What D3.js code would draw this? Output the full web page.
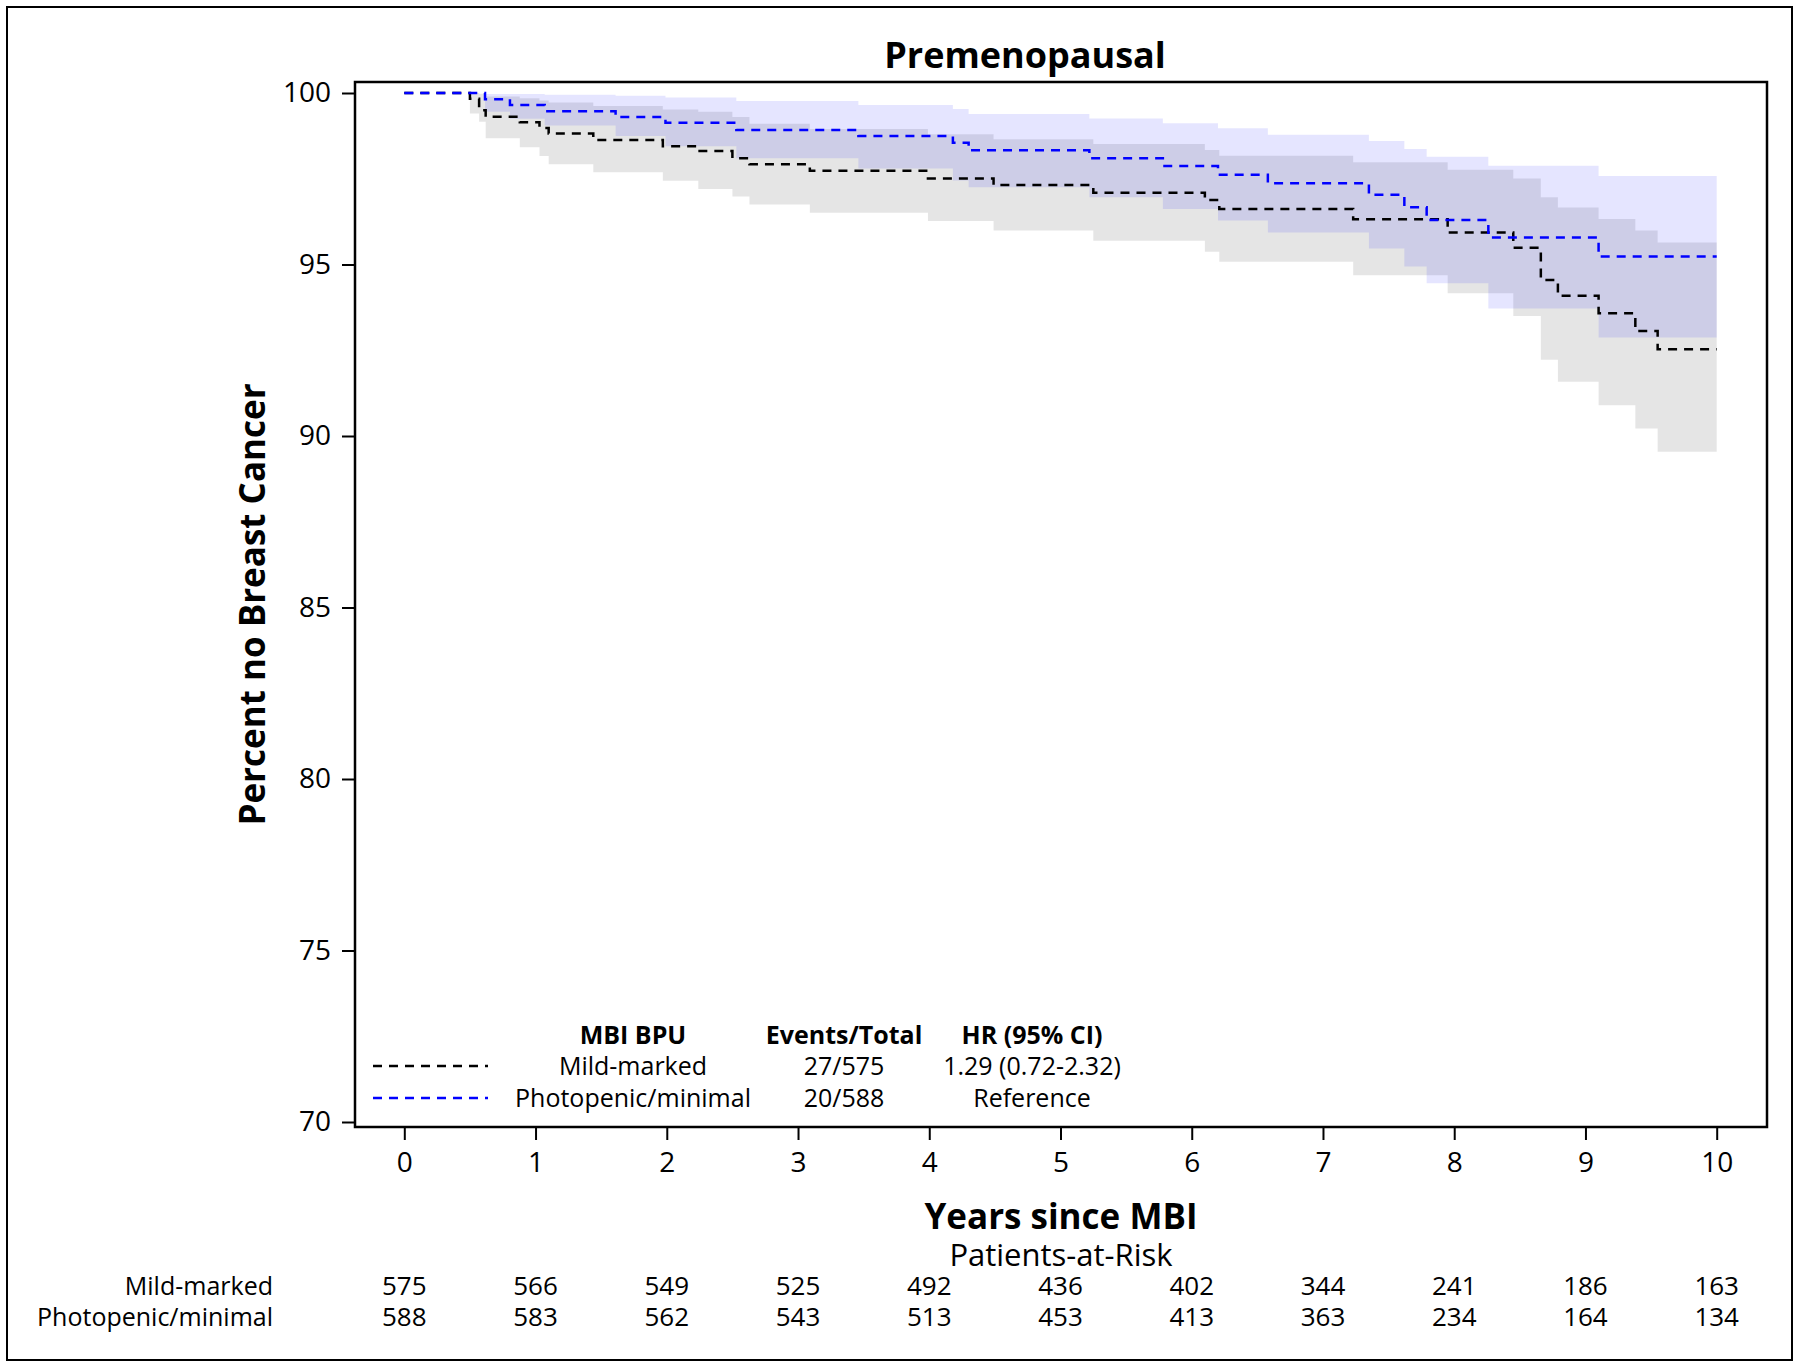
<!DOCTYPE html>
<html>
<head>
<meta charset="utf-8">
<script src="https://cdn.jsdelivr.net/npm/d3@7"></script>
<style>
html,body{margin:0;padding:0;background:#fff;}
svg{display:block;}
text{font-family:"Open Sans","Noto Sans",sans-serif;fill:#000;}
</style>
</head>
<body>
<script>
// ---------- DATA ----------
const title = "Premenopausal";
const yTicks = [70, 75, 80, 85, 90, 95, 100];
const xTicks = [0, 1, 2, 3, 4, 5, 6, 7, 8, 9, 10];

// Mild-marked (black)
const mildTime  = [0, 0.50, 0.57, 0.62, 0.88, 1.03, 1.10, 1.44, 1.97, 2.24, 2.50, 2.63, 3.09, 3.99, 4.49, 5.25, 6.10, 6.21, 7.23, 7.95, 8.45, 8.66, 8.79, 9.10, 9.38, 9.55, 10];
const mildSurv  = [100, 99.83, 99.5, 99.31, 99.15, 98.98, 98.82, 98.63, 98.45, 98.31, 98.10, 97.92, 97.73, 97.51, 97.32, 97.09, 96.88, 96.62, 96.32, 95.93, 95.49, 94.55, 94.09, 93.58, 93.06, 92.53, 92.53];
const mildUpper = [100, 100, 99.98, 99.9, 99.85, 99.78, 99.72, 99.62, 99.52, 99.45, 99.3, 99.1, 98.95, 98.8, 98.65, 98.51, 98.34, 98.17, 97.98, 97.76, 97.51, 96.96, 96.66, 96.33, 95.99, 95.64, 95.64];
const mildLower = [100, 99.4, 99.16, 98.68, 98.42, 98.16, 97.92, 97.69, 97.44, 97.2, 96.98, 96.75, 96.51, 96.27, 95.99, 95.69, 95.37, 95.08, 94.69, 94.16, 93.5, 92.22, 91.58, 90.9, 90.22, 89.54, 89.54];

// Photopenic/minimal (blue)
const photoTime  = [0, 0.615, 0.805, 1.07, 1.61, 1.99, 2.53, 3.46, 4.18, 4.30, 5.22, 5.78, 6.20, 6.58, 7.35, 7.62, 7.79, 8.26, 9.10, 10];
const photoSurv  = [100, 99.82, 99.65, 99.47, 99.30, 99.13, 98.92, 98.75, 98.55, 98.33, 98.10, 97.87, 97.62, 97.37, 97.03, 96.67, 96.30, 95.79, 95.23, 95.23];
const photoUpper = [100, 99.97, 99.97, 99.95, 99.92, 99.87, 99.77, 99.65, 99.53, 99.39, 99.26, 99.12, 98.97, 98.78, 98.60, 98.37, 98.14, 97.88, 97.58, 97.58];
const photoLower = [100, 99.45, 99.25, 99.05, 98.75, 98.45, 98.10, 97.8, 97.45, 97.25, 96.96, 96.62, 96.28, 95.93, 95.47, 94.94, 94.45, 93.72, 92.87, 92.87];

const groups = ["Mild-marked", "Photopenic/minimal"];
const eventsTotal = ["27/575", "20/588"];
const hrText = ["1.29 (0.72-2.32)", "Reference"];
const legendHeaders = ["MBI BPU", "Events/Total", "HR (95% CI)"];
const atRiskMild  = [575, 566, 549, 525, 492, 436, 402, 344, 241, 186, 163];
const atRiskPhoto = [588, 583, 562, 543, 513, 453, 413, 363, 234, 164, 134];

// ---------- LAYOUT ----------
const W = 1800, H = 1367;
const frame = {x0: 355, y0: 82, x1: 1767, y1: 1127};
const svg = d3.select("body").append("svg").attr("width", W).attr("height", H);

svg.append("rect").attr("x", 7).attr("y", 7).attr("width", 1785).attr("height", 1353)
  .attr("fill", "#fff").attr("stroke", "#000").attr("stroke-width", 2);

const x = d3.scaleLinear().domain([0, 10]).range([404.3, 1716.7]);
const y = d3.scaleLinear().domain([70, 100]).range([1122, 93]);

const mk = (t, s, u, l) => t.map((d, i) => ({t: d, s: s[i], u: u[i], l: l[i]}));
const mild = mk(mildTime, mildSurv, mildUpper, mildLower);
const photo = mk(photoTime, photoSurv, photoUpper, photoLower);

const area = d3.area().curve(d3.curveStepAfter)
  .x(d => x(d.t)).y0(d => y(d.l)).y1(d => y(d.u));
const line = d3.line().curve(d3.curveStepAfter)
  .x(d => x(d.t)).y(d => y(d.s));

const plot = svg.append("g");
plot.append("path").datum(mild.filter(d => d.t >= 0.5)).attr("d", area)
  .attr("fill", "#000").attr("fill-opacity", 0.1);
plot.append("path").datum(photo.filter(d => d.t >= 0.615)).attr("d", area)
  .attr("fill", "#0000ff").attr("fill-opacity", 0.1);

const dash = "9,7";
plot.append("path").datum(mild).attr("d", line)
  .attr("fill", "none").attr("stroke", "#000").attr("stroke-width", 2.5).attr("stroke-dasharray", dash);
plot.append("path").datum(photo).attr("d", line)
  .attr("fill", "none").attr("stroke", "#0000ff").attr("stroke-width", 2.5).attr("stroke-dasharray", dash);

// frame
svg.append("rect").attr("x", frame.x0).attr("y", frame.y0)
  .attr("width", frame.x1 - frame.x0).attr("height", frame.y1 - frame.y0)
  .attr("fill", "none").attr("stroke", "#000").attr("stroke-width", 2.5);

// axes
const yAxis = d3.axisLeft(y).tickValues(yTicks).tickSize(13).tickPadding(11);
const gy = svg.append("g").attr("transform", `translate(${frame.x0},0)`).call(yAxis);
gy.select(".domain").remove();
gy.selectAll(".tick line").attr("stroke", "#000").attr("stroke-width", 2);
gy.selectAll(".tick text").attr("font-size", 28).attr("font-family", "'Open Sans'").attr("fill", "#000");

const xAxis = d3.axisBottom(x).tickValues(xTicks).tickSize(13).tickPadding(12);
const gx = svg.append("g").attr("transform", `translate(0,${frame.y1})`).call(xAxis);
gx.select(".domain").remove();
gx.selectAll(".tick line").attr("stroke", "#000").attr("stroke-width", 2);
gx.selectAll(".tick text").attr("font-size", 28).attr("font-family", "'Open Sans'").attr("fill", "#000");

// title & labels
const cx = (frame.x0 + frame.x1) / 2;
svg.append("text").attr("x", 1025).attr("y", 55).attr("dy", "0.35em").attr("text-anchor", "middle")
  .attr("font-size", 36).attr("font-weight", "bold").text(title);
svg.append("text").attr("transform", `translate(253,${(frame.y0 + frame.y1) / 2}) rotate(-90)`)
  .attr("dy", "0.35em").attr("text-anchor", "middle")
  .attr("font-size", 35).attr("font-weight", "bold").text("Percent no Breast Cancer");
svg.append("text").attr("x", cx).attr("y", 1217).attr("dy", "0.35em").attr("text-anchor", "middle")
  .attr("font-size", 35).attr("font-weight", "bold").text("Years since MBI");
svg.append("text").attr("x", cx).attr("y", 1255).attr("dy", "0.35em").attr("text-anchor", "middle")
  .attr("font-size", 31).text("Patients-at-Risk");

// at-risk table
const riskRows = [atRiskMild, atRiskPhoto];
const riskY = [1286, 1317];
riskRows.forEach((row, r) => {
  svg.append("text").attr("x", 273).attr("y", riskY[r]).attr("dy", "0.35em").attr("text-anchor", "end")
    .attr("font-size", 25).text(groups[r]);
  svg.selectAll(null).data(row).enter().append("text")
    .attr("x", (d, i) => x(xTicks[i])).attr("y", riskY[r]).attr("dy", "0.35em")
    .attr("text-anchor", "middle").attr("font-size", 26).text(d => d);
});

// legend
const legCols = [633, 844, 1032];
const legY = [1035, 1066, 1098];
legendHeaders.forEach((h, i) => {
  svg.append("text").attr("x", legCols[i]).attr("y", legY[0]).attr("dy", "0.35em")
    .attr("text-anchor", "middle").attr("font-size", 25).attr("font-weight", "bold").text(h);
});
const legColors = ["#000", "#0000ff"];
groups.forEach((g, r) => {
  const yy = legY[r + 1];
  svg.append("line").attr("x1", 373).attr("x2", 488).attr("y1", yy).attr("y2", yy)
    .attr("stroke", legColors[r]).attr("stroke-width", 2.5).attr("stroke-dasharray", dash);
  [g, eventsTotal[r], hrText[r]].forEach((t, c) => {
    svg.append("text").attr("x", legCols[c]).attr("y", yy).attr("dy", "0.35em")
      .attr("text-anchor", "middle").attr("font-size", 25).text(t);
  });
});
</script>
</body>
</html>
